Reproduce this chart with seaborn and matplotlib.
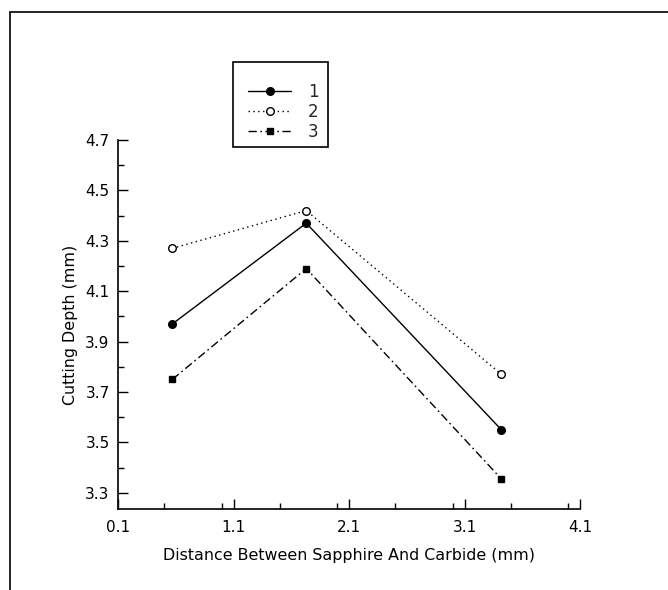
import matplotlib
matplotlib.use("Agg")
import matplotlib.pyplot as plt
from matplotlib.lines import Line2D
from matplotlib.patches import Rectangle
from matplotlib.ticker import MultipleLocator
import pandas as pd
import seaborn as sns

# Distance between sapphire and carbide (mm) for each measurement
distance = [0.57, 1.73, 3.42]
# Cutting depth (mm) for the three series
depth_1 = [3.97, 4.37, 3.55]
depth_2 = [4.27, 4.42, 3.77]
depth_3 = [3.75, 4.19, 3.355]
series_labels = ["1", "2", "3"]

x_ticks = [0.1, 1.1, 2.1, 3.1, 4.1]
y_ticks = [3.3, 3.5, 3.7, 3.9, 4.1, 4.3, 4.5, 4.7]

df = pd.DataFrame({
    "distance": distance * 3,
    "depth": depth_1 + depth_2 + depth_3,
    "series": [s for s in series_labels for _ in distance],
})

sns.set_theme(style="white")
plt.rcParams["font.family"] = ["DejaVu Sans"]

W, H = 668, 590
fig = plt.figure(figsize=(W / 100, H / 100), dpi=100)
ax = fig.add_axes([118 / W, 1 - 509 / H, (580 - 118) / W, (509 - 140) / H])

styles = {
    "1": dict(linestyle="-", marker="o", mfc="black", ms=5.5),
    "2": dict(linestyle=(0, (1, 2.5)), marker="o", mfc="white", ms=5.5),
    "3": dict(linestyle=(0, (6, 2.5, 1.2, 2.5)), marker="s", mfc="black", ms=5),
}

handles = []
for s in series_labels:
    st = styles[s]
    sub = df[df["series"] == s]
    sns.lineplot(data=sub, x="distance", y="depth", ax=ax, color="black",
                 linewidth=1.0, linestyle=st["linestyle"], marker=st["marker"],
                 markersize=st["ms"], markerfacecolor=st["mfc"],
                 markeredgecolor="black", markeredgewidth=1.0, legend=False)
    handles.append(Line2D([], [], color="black", linewidth=1.0,
                          linestyle=st["linestyle"], marker=st["marker"],
                          markersize=st["ms"], markerfacecolor=st["mfc"],
                          markeredgecolor="black", markeredgewidth=1.0))

ax.set_xlim(0.1, 4.1)
ax.set_ylim(3.236, 4.7)
ax.set_xticks(x_ticks)
ax.set_yticks(y_ticks)
ax.set_xticklabels([f"{v:.1f}" for v in x_ticks])
ax.set_yticklabels([f"{v:.1f}" for v in y_ticks])
ax.xaxis.set_minor_locator(MultipleLocator(0.5))
ax.yaxis.set_minor_locator(MultipleLocator(0.1))

for side in ["top", "right"]:
    ax.spines[side].set_visible(False)
for side in ["left", "bottom"]:
    ax.spines[side].set_color("black")
    ax.spines[side].set_linewidth(1.2)

ax.tick_params(axis="both", which="major", direction="in", length=7, width=1,
               colors="black", labelsize=11, left=True, bottom=True)
ax.tick_params(axis="x", which="major", pad=8)
ax.tick_params(axis="y", which="major", pad=6)
ax.tick_params(axis="both", which="minor", direction="in", length=4, width=1,
               colors="black", left=True, bottom=True)

ax.set_xlabel("Distance Between Sapphire And Carbide (mm)", fontsize=11.4,
              color="black", labelpad=9)
ax.set_ylabel("Cutting Depth (mm)", fontsize=11.4, color="black", labelpad=5)

# Legend: boxed key with line samples on the left and labels on the right
fig.add_artist(Rectangle((233 / W, 1 - 147 / H), (328 - 233) / W, (147 - 62) / H,
                         transform=fig.transFigure, fill=False,
                         edgecolor="black", linewidth=1.2))
leg = fig.legend(handles, series_labels, loc="upper left",
                 bbox_to_anchor=(248 / W, 1 - 83 / H), frameon=False,
                 fontsize=12, handlelength=2.6, handletextpad=1.0,
                 borderpad=0, labelspacing=0.12, borderaxespad=0)

# Outer border along the top and left of the figure
fig.add_artist(Line2D([10 / W, 1.0], [1 - 12 / H, 1 - 12 / H],
                      transform=fig.transFigure, color="black", linewidth=1.2))
fig.add_artist(Line2D([10 / W, 10 / W], [1 - 12 / H, 0.0],
                      transform=fig.transFigure, color="black", linewidth=1.2))

fig.savefig("out.png", dpi=100, facecolor="white")
